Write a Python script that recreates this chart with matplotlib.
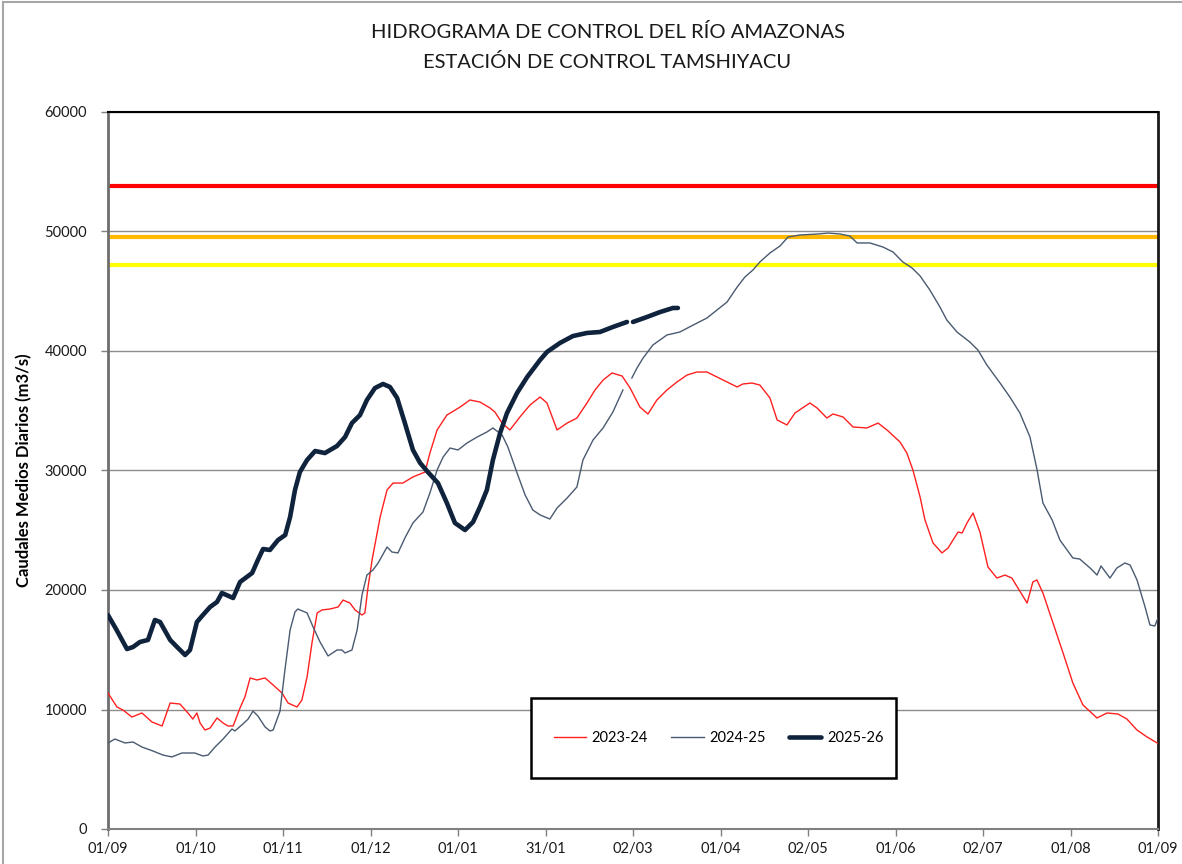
import numpy as np
import matplotlib
matplotlib.use("Agg")
import matplotlib.pyplot as plt
from matplotlib.patches import Rectangle
from matplotlib.lines import Line2D

nan = np.nan

# ---------------- data ----------------
title_lines = ["HIDROGRAMA DE CONTROL DEL RÍO AMAZONAS", "ESTACIÓN DE CONTROL TAMSHIYACU"]
ylabel = "Caudales Medios Diarios (m3/s)"
xtick_labels = ["01/09", "01/10", "01/11", "01/12", "01/01", "31/01", "02/03",
                "01/04", "02/05", "01/06", "02/07", "01/08", "01/09"]
season_days = 365

# alert thresholds (m3/s)
thr_red = 53800
thr_orange = 49540
thr_yellow = 47200

# 2023-24 (days since 01/09, m3/s)
red_day = [0, 3.1, 5.2, 8.3, 11.8, 15.3, 18.8, 21.6, 25.0, 27.5,
           29.5, 30.9, 32.0, 33.7, 35.5, 37.9, 40.0, 41.7, 43.5, 45.9,
           47.6, 49.4, 51.8, 54.6, 57.4, 60.5, 62.6, 65.7, 67.4, 69.2,
           70.9, 72.7, 74.4, 77.2, 80.0, 81.7, 84.1, 85.9, 88.3, 89.3,
           90.4, 91.8, 94.6, 97.0, 99.1, 102.5, 106.0, 110.2, 111.9, 114.4,
           117.8, 122.4, 125.8, 129.3, 132.8, 134.5, 137.0, 139.7, 143.2, 146.7,
           150.2, 152.6, 156.1, 159.6, 163.0, 166.5, 169.3, 172.1, 175.2, 178.7,
           181.5, 184.9, 187.7, 190.8, 194.3, 197.8, 201.3, 204.7, 208.2, 211.7,
           215.2, 218.7, 220.7, 223.9, 226.6, 230.1, 232.6, 236.0, 238.8, 244.0,
           246.5, 249.9, 252.0, 255.5, 259.0, 263.8, 267.7, 270.8, 275.3, 277.7,
           279.8, 282.3, 284.0, 286.8, 289.9, 292.0, 295.5, 296.9, 298.6, 300.7,
           303.1, 305.9, 309.0, 311.8, 314.2, 316.3, 319.5, 321.5, 322.9, 325.0,
           328.5, 332.0, 335.4, 338.9, 343.8, 347.3, 351.1, 354.2, 357.7, 361.2,
           364.7]
red_val = [11380, 10210, 9960, 9370, 9710, 8950, 8620, 10540, 10460, 9790,
           9200, 9710, 8870, 8280, 8450, 9290, 8870, 8620, 8620, 10130,
           11050, 12640, 12470, 12640, 12050, 11380, 10540, 10210, 10790, 12720,
           15560, 18080, 18330, 18410, 18580, 19160, 18910, 18330, 17910, 18080,
           20250, 22510, 26110, 28370, 28950, 28950, 29460, 29870, 31460, 33390,
           34640, 35310, 35900, 35730, 35230, 34890, 33970, 33390, 34480, 35480,
           36150, 35650, 33390, 33970, 34390, 35650, 36740, 37570, 38160, 37910,
           36900, 35310, 34730, 35900, 36740, 37410, 37990, 38240, 38240, 37820,
           37410, 36990, 37240, 37320, 37150, 36070, 34230, 33810, 34810, 35650,
           35230, 34390, 34730, 34480, 33640, 33560, 33970, 33390, 32390, 31460,
           30040, 27780, 25860, 23930, 23100, 23510, 24850, 24770, 25610, 26440,
           24850, 21920, 21000, 21250, 21000, 20170, 18910, 20670, 20840, 19750,
           17240, 14730, 12220, 10380, 9290, 9710, 9620, 9200, 8280, 7700,
           7200]

# 2024-25
gray_day = [0, 2.4, 5.9, 8.7, 11.8, 15.6, 19.1, 22.2, 25.7, 30.2,
            33.0, 34.8, 37.2, 40.0, 43.1, 44.1, 46.9, 48.7, 50.4, 52.1,
            54.6, 56.3, 57.4, 59.8, 61.5, 63.3, 65.0, 66.0, 69.2, 71.3,
            73.7, 76.5, 79.6, 81.3, 82.4, 84.8, 86.6, 88.3, 90.0, 92.1,
            93.9, 97.0, 98.7, 100.8, 103.2, 106.0, 109.5, 111.9, 114.4, 116.5,
            118.9, 121.7, 124.8, 128.3, 131.7, 133.8, 137.0, 139.0, 142.2, 145.0,
            147.7, 150.2, 153.6, 156.1, 159.6, 163.0, 165.1, 168.6, 172.1, 175.5,
            179.0, 180.8, 182.1, 183.9, 186.0, 189.4, 194.3, 198.8, 203.4, 208.2,
            211.7, 215.2, 218.7, 221.4, 224.2, 226.6, 230.1, 233.6, 236.4, 240.6,
            246.8, 250.3, 254.5, 257.9, 260.4, 264.9, 269.4, 272.9, 276.3, 279.5,
            282.3, 285.7, 289.2, 291.6, 295.1, 299.6, 302.4, 305.5, 310.1, 313.5,
            317.0, 320.5, 322.9, 325.0, 328.2, 330.9, 335.4, 337.8, 341.4, 343.8,
            345.2, 348.3, 350.7, 353.5, 355.3, 357.7, 360.5, 362.2, 363.9, 365.0]
gray_val = [7200, 7530, 7200, 7280, 6860, 6530, 6190, 6030, 6360, 6360,
            6110, 6190, 6860, 7530, 8370, 8200, 8790, 9200, 9870, 9460,
            8540, 8200, 8280, 9870, 13310, 16650, 18160, 18410, 18080, 16900,
            15650, 14480, 14980, 14980, 14730, 14980, 16650, 19580, 21250, 21670,
            22260, 23600, 23180, 23100, 24350, 25610, 26530, 28120, 30040, 31130,
            31880, 31720, 32300, 32800, 33220, 33560, 32970, 31970, 29790, 27950,
            26690, 26280, 25940, 26860, 27700, 28620, 30880, 32550, 33560, 34890,
            36740, nan, 37740, 38580, 39410, 40500, 41340, 41590, 42170, 42760,
            43430, 44100, 45350, 46190, 46780, 47450, 48200, 48790, 49540, 49710,
            49790, 49870, 49790, 49620, 49040, 49040, 48700, 48280, 47450, 46950,
            46280, 45100, 43680, 42590, 41590, 40750, 40080, 38830, 37320, 36150,
            34810, 32800, 30130, 27280, 25860, 24180, 22680, 22590, 21840, 21250,
            22010, 21000, 21840, 22260, 22090, 20840, 18580, 17070, 16990, 17660]

# 2025-26
dark_day = [0, 3.0, 6.6, 8.7, 11.1, 13.9, 16.3, 18.1, 21.6, 24.0,
            26.8, 28.5, 30.9, 33.0, 35.5, 37.9, 39.6, 43.5, 45.9, 50.1,
            52.1, 53.9, 56.3, 59.1, 61.6, 63.3, 65.0, 66.7, 69.2, 72.0,
            75.4, 79.6, 82.4, 84.8, 87.6, 90.0, 92.8, 95.6, 98.0, 100.5,
            103.2, 106.0, 108.5, 111.2, 114.7, 117.8, 120.6, 124.1, 126.9, 129.3,
            131.7, 133.8, 136.3, 138.7, 142.2, 145.7, 150.2, 152.6, 157.1, 161.6,
            166.5, 171.0, 175.5, 180.4, 181.5, 182.5, 187.4, 191.9, 196.4, 198.1]
dark_val = [17900, 16650, 15060, 15230, 15650, 15820, 17490, 17320, 15820, 15230,
            14560, 14980, 17320, 17910, 18580, 19000, 19750, 19330, 20670, 21420,
            22510, 23430, 23350, 24180, 24600, 26110, 28370, 29870, 30880, 31630,
            31460, 32050, 32800, 33970, 34640, 35900, 36900, 37240, 36990, 36070,
            33970, 31720, 30630, 29870, 28950, 27280, 25610, 25020, 25690, 26950,
            28370, 30880, 33140, 34810, 36490, 37820, 39250, 39920, 40670, 41250,
            41510, 41590, 42010, 42430, nan, 42430, 42850, 43260, 43600, 43600]

series_labels = ["2023-24", "2024-25", "2025-26"]

# ---------------- figure ----------------
font = "Lato"
plt.rcParams['font.family'] = [font, 'DejaVu Sans']

W, H = 1182, 864
fig = plt.figure(figsize=(W / 100, H / 100), dpi=100)
fig.patch.set_facecolor("white")

# outer chart-area border (left & top visible)
fig.add_artist(Line2D([3 / W, 3 / W], [0, 1 - 2 / H], color="#a6a6a6", lw=1.5))
fig.add_artist(Line2D([3 / W, 1], [1 - 2 / H, 1 - 2 / H], color="#a6a6a6", lw=1.5))

ax = fig.add_axes([108 / W, 1 - 829 / H, 1050 / W, 717 / H])

# thresholds
ax.axhline(thr_red, color="#ff0000", lw=3, zorder=2)
ax.axhline(thr_orange, color="#ffb900", lw=3, zorder=2)
ax.axhline(thr_yellow, color="#ffff00", lw=3, zorder=2)

l1, = ax.plot(red_day, red_val, color="#ff2020", lw=1.0, zorder=3, label=series_labels[0])
l2, = ax.plot(gray_day, gray_val, color="#4a5a70", lw=1.0, zorder=3, label=series_labels[1])
l3, = ax.plot(dark_day, dark_val, color="#10233d", lw=3.3, zorder=4, label=series_labels[2],
              solid_capstyle="round", solid_joinstyle="round")

ax.set_xlim(0, season_days)
ax.set_ylim(0, 60000)
ax.set_yticks(np.arange(0, 60001, 10000))
ax.set_yticklabels([str(v) for v in range(0, 60001, 10000)])
ax.set_xticks([i * season_days / 12 for i in range(13)])
ax.set_xticklabels(xtick_labels)

ax.grid(axis="y", color="#8c8c8c", lw=1.0, zorder=1)
ax.set_axisbelow(True)

ax.spines["left"].set_color("#6e6e6e")
ax.spines["left"].set_linewidth(2.0)
ax.spines["bottom"].set_color("#808080")
ax.spines["bottom"].set_linewidth(1.5)
ax.spines["top"].set_color("#000000")
ax.spines["top"].set_linewidth(1.5)
ax.spines["right"].set_color("#1a1a1a")
ax.spines["right"].set_linewidth(2.0)

ax.tick_params(axis="both", direction="out", length=5, width=1, color="#808080",
               labelsize=10.5, labelcolor="#1a1a1a")
ax.tick_params(axis="x", pad=4)
ax.tick_params(axis="y", pad=10)

ax.set_ylabel(ylabel, fontsize=12, fontweight="bold")
ax.yaxis.set_label_coords(-0.072, 0.5)

fig.text(0.514, 1 - 32 / H, title_lines[0], ha="center", va="center", fontsize=14.5, color="#1a1a1a")
fig.text(0.514, 1 - 62 / H, title_lines[1], ha="center", va="center", fontsize=14.5, color="#1a1a1a")

# legend box
lx0, ly0 = (531 - 108) / 1050, (829 - 778) / 717
lw_, lh_ = (896 - 531) / 1050, (778 - 698) / 717
ax.add_patch(Rectangle((lx0, ly0), lw_, lh_, transform=ax.transAxes, facecolor="white",
                       edgecolor="black", lw=1.8, zorder=10))
leg = ax.legend(handles=[l1, l2, l3], loc="center",
                bbox_to_anchor=(lx0 + lw_ / 2 + 0.005, ly0 + lh_ / 2), ncol=3, frameon=False,
                fontsize=10.5, handlelength=2.2, handletextpad=0.4, columnspacing=1.6)
leg.set_zorder(11)

fig.savefig("out.png", dpi=100, facecolor="white")
